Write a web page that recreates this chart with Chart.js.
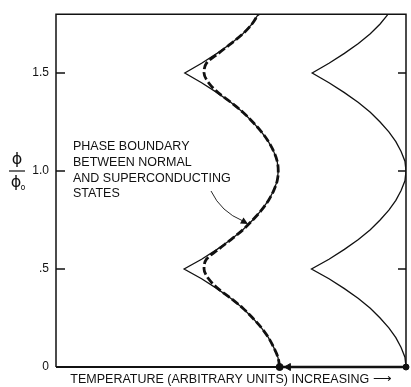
<!DOCTYPE html>
<html>
<head>
<meta charset="utf-8">
<script src="https://cdn.jsdelivr.net/npm/chart.js@4/dist/chart.umd.min.js"></script>
<style>
  html, body { margin: 0; padding: 0; background: #fff; }
  #wrap { width: 411px; height: 387px; position: relative; }
</style>
</head>
<body>
<div id="wrap"><canvas id="chart"></canvas></div>
<script>
// flux phi/phi0 (vertical axis)
var phi = [0, 0.05, 0.1, 0.15, 0.2, 0.25, 0.3, 0.35, 0.4, 0.45, 0.5,
           0.55, 0.6, 0.65, 0.7, 0.75, 0.8, 0.85, 0.9, 0.95, 1.0,
           1.05, 1.1, 1.15, 1.2, 1.25, 1.3, 1.35, 1.4, 1.45, 1.5,
           1.55, 1.6, 1.65, 1.7, 1.75, 1.8];

// temperature, arbitrary units (0..100 across the frame)
var outerTemp = [100, 99.7, 98.6, 97.1, 95.1, 92.6, 89.8, 86.4, 82.4, 78.0, 73.0,
                 78.0, 82.4, 86.4, 89.8, 92.6, 95.1, 97.1, 98.6, 99.7, 100,
                 99.7, 98.6, 97.1, 95.1, 92.6, 89.8, 86.4, 82.4, 78.0, 73.2,
                 78.0, 82.4, 86.4, 89.8, 92.6, 94.9];

var innerTemp = [63.9, 63.4, 62.2, 60.7, 58.7, 56.2, 53.4, 50.0, 46.0, 41.6, 36.6,
                 41.6, 46.0, 50.0, 53.4, 56.2, 58.7, 60.7, 62.2, 63.2, 63.5,
                 63.2, 62.2, 60.7, 58.7, 56.2, 53.4, 50.0, 46.0, 41.6, 36.8,
                 41.6, 46.0, 50.0, 53.4, 56.0, 57.8];

// phase boundary (heavy dashed)
var boundaryTemp = [63.9, 63.4, 62.2, 60.7, 58.7, 56.2, 53.4, 50.0, 46.3, 43.6, 42.3,
                    43.0, 46.4, 50.0, 53.4, 56.2, 58.7, 60.7, 62.2, 63.2, 63.5,
                    63.2, 62.2, 60.7, 58.7, 56.2, 53.4, 50.0, 46.3, 43.6, 42.3,
                    43.0, 46.4, 50.0, 53.4, 56.0, 57.8];

// shift marker along the temperature axis
var shiftTemp = [63.9, 66.4, 100];
var shiftPhi = [0, 0, 0];

var yTickValues = [0, 0.5, 1.0, 1.5];
var yTickText = ['0', '.5', '1.0', '1.5'];

var annotationLines = ['PHASE BOUNDARY', 'BETWEEN NORMAL', 'AND SUPERCONDUCTING', 'STATES'];
var xTitle = 'TEMPERATURE (ARBITRARY UNITS) INCREASING \u27F6';

var INK = '#111';
var FONT = '"Liberation Sans", Arial, sans-serif';

function pts(xs, ys) {
  return xs.map(function (x, i) { return { x: x, y: ys[i] }; });
}

var framePlugin = {
  id: 'frame',
  beforeDatasetsDraw: function (chart) {
    var ctx = chart.ctx, a = chart.chartArea, ys = chart.scales.y;
    ctx.save();
    ctx.strokeStyle = INK;
    ctx.lineWidth = 1.5;
    ctx.beginPath();
    ctx.moveTo(a.left, a.bottom);
    ctx.lineTo(a.left, a.top);
    ctx.lineTo(a.right, a.top);
    ctx.lineTo(a.right, a.bottom);
    ctx.stroke();
    ctx.lineWidth = 2;
    ctx.beginPath();
    ctx.moveTo(a.left, a.bottom);
    ctx.lineTo(a.right, a.bottom);
    ctx.stroke();
    // inward ticks
    ctx.lineWidth = 1.3;
    ys.ticks.forEach(function (t) {
      var py = ys.getPixelForValue(t.value);
      if (t.value === 0) return;
      ctx.beginPath();
      ctx.moveTo(a.left, py); ctx.lineTo(a.left + 9, py);
      ctx.moveTo(a.right - 8, py); ctx.lineTo(a.right, py);
      ctx.stroke();
    });
    ctx.restore();
  },
  afterDraw: function (chart) {
    var ctx = chart.ctx;
    ctx.save();
    ctx.fillStyle = INK;
    ctx.strokeStyle = INK;
    // annotation text
    ctx.font = '12.5px ' + FONT;
    ctx.textBaseline = 'middle';
    ctx.textAlign = 'left';
    var lineY = [147, 163, 179, 194];
    annotationLines.forEach(function (s, i) { ctx.fillText(s, 73, lineY[i]); });
    // annotation leader
    ctx.lineWidth = 0.9;
    ctx.beginPath();
    ctx.moveTo(211, 191);
    ctx.quadraticCurveTo(221, 212, 243, 221);
    ctx.stroke();
    ctx.beginPath();
    ctx.moveTo(248, 224);
    ctx.lineTo(240, 223.5);
    ctx.lineTo(243.5, 217.5);
    ctx.closePath();
    ctx.fill();
    // y axis label phi / phi0
    ctx.font = '16px "DejaVu Sans", sans-serif';
    ctx.textAlign = 'center';
    ctx.fillText('\u03D5', 17, 160);
    ctx.fillText('\u03D5', 16, 183);
    ctx.font = '8px "DejaVu Sans", sans-serif';
    ctx.fillText('o', 23, 188);
    ctx.lineWidth = 1.2;
    ctx.beginPath();
    ctx.moveTo(9, 171); ctx.lineTo(25, 171);
    ctx.stroke();
    ctx.restore();
  }
};

new Chart(document.getElementById('chart'), {
  type: 'line',
  data: {
    datasets: [
      {
        data: pts(outerTemp, phi),
        borderColor: INK, borderWidth: 1.3, pointRadius: 0, tension: 0
      },
      {
        data: pts(innerTemp, phi),
        borderColor: INK, borderWidth: 1.3, pointRadius: 0, tension: 0
      },
      {
        data: pts(boundaryTemp, phi),
        borderColor: INK, borderWidth: 2.8, borderDash: [8, 3],
        pointRadius: 0, cubicInterpolationMode: 'monotone'
      },
      {
        data: pts(shiftTemp, shiftPhi),
        borderColor: INK, borderWidth: 2.5, clip: false,
        backgroundColor: INK,
        pointBackgroundColor: INK, pointBorderColor: INK,
        pointStyle: ['circle', 'triangle', 'circle'],
        pointRotation: [0, -90, 0],
        pointRadius: [3.5, 4, 3], pointBorderWidth: 1
      }
    ]
  },
  options: {
    indexAxis: 'y',
    responsive: true,
    maintainAspectRatio: false,
    animation: false,
    layout: { padding: { top: 12, right: 3, left: 0, bottom: 0 } },
    plugins: { legend: { display: false }, tooltip: { enabled: false } },
    scales: {
      x: {
        type: 'linear', min: 0, max: 100,
        grid: { display: false }, border: { display: false },
        ticks: { display: false },
        title: {
          display: true, text: xTitle, color: INK,
          font: { family: FONT, size: 12.5 },
          padding: { top: 0, bottom: 0 }
        },
        afterFit: function (s) { s.height = 20; }
      },
      y: {
        type: 'linear', min: 0, max: 1.8,
        grid: { display: false, drawTicks: false }, border: { display: false },
        afterBuildTicks: function (s) {
          s.ticks = yTickValues.map(function (v) { return { value: v }; });
        },
        ticks: {
          color: INK, padding: 7,
          font: { family: FONT, size: 12 },
          callback: function (v) { return yTickText[yTickValues.indexOf(v)]; }
        },
        afterFit: function (s) { s.width = 56; }
      }
    }
  },
  plugins: [framePlugin]
});
</script>
</body>
</html>
